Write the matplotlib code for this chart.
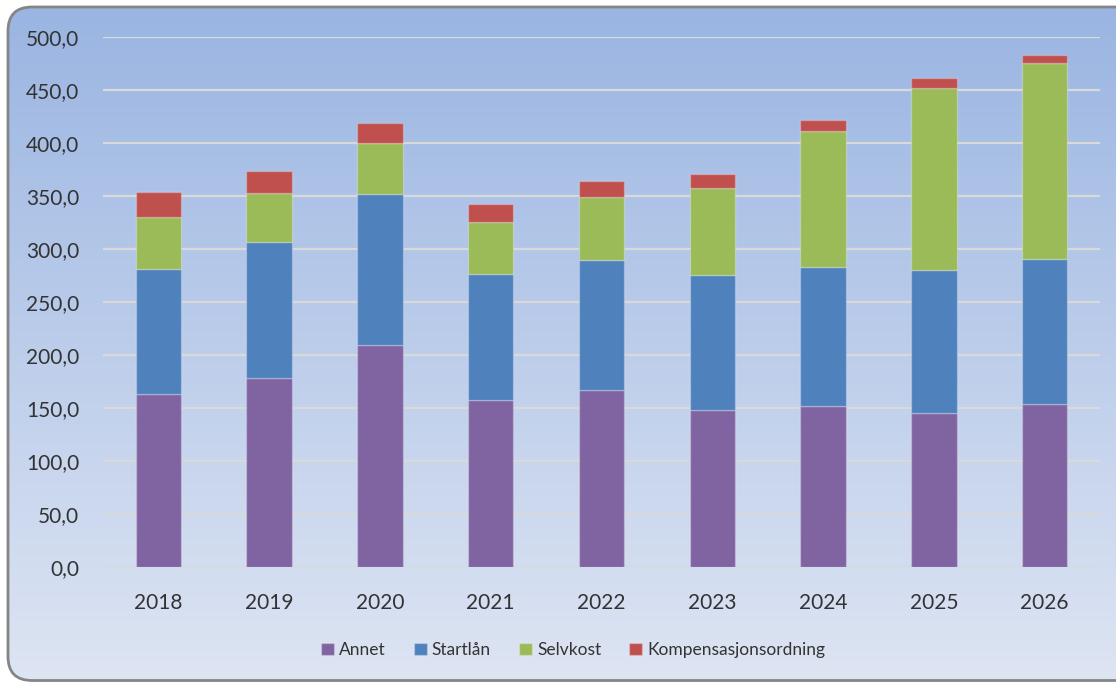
import numpy as np
import matplotlib.pyplot as plt
from matplotlib.patches import FancyBboxPatch

plt.rcParams["font.family"] = ["Lato", "DejaVu Sans"]

years = ["2018", "2019", "2020", "2021", "2022", "2023", "2024", "2025", "2026"]
annet = [163.6, 178.7, 209.8, 157.9, 167.0, 148.5, 151.9, 145.6, 153.8]
startlan = [117.2, 127.9, 142.5, 118.9, 123.0, 126.7, 130.8, 134.3, 136.8]
selvkost = [49.1, 46.2, 47.4, 49.0, 59.4, 82.3, 128.3, 172.3, 185.2]
kompensasjon = [23.9, 20.5, 18.9, 17.0, 15.1, 13.0, 11.1, 8.8, 6.9]

series = [
    ("Annet", annet, "#8064a2"),
    ("Startlån", startlan, "#4f81bd"),
    ("Selvkost", selvkost, "#9bbb59"),
    ("Kompensasjonsordning", kompensasjon, "#c0504d"),
]

W, H = 1116, 682
fig = plt.figure(figsize=(W / 100, H / 100), dpi=100)

# background panel: rounded box filled with a vertical blue gradient
bg = fig.add_axes([0, 0, 1, 1])
bg.set_xlim(0, W)
bg.set_ylim(H, 0)
bg.axis("off")
top = np.array([154, 181, 226]) / 255
bottom = np.array([222, 229, 243]) / 255
t = np.linspace(0, 1, 256)[:, None]
grad = (top * (1 - t) + bottom * t)[:, None, :]
box = FancyBboxPatch((8, 7), W + 20, H - 7 - 1.5,
                     boxstyle="round,pad=0,rounding_size=24",
                     facecolor="none", edgecolor="#858585", linewidth=2)
bg.add_patch(box)
img = bg.imshow(grad, extent=(8, W + 28, H, 7), aspect="auto", zorder=0)
img.set_clip_path(box)

ax = fig.add_axes([103 / W, (H - 567) / H, 997 / W, 530 / H])
ax.patch.set_alpha(0)

x = np.arange(len(years))
base = np.zeros(len(years))
for name, vals, color in series:
    ax.bar(x, vals, width=0.41, bottom=base, color=color, label=name,
           edgecolor=(1, 1, 1, 0.25), linewidth=1, zorder=3)
    base += np.array(vals)

ax.set_xlim(-0.5, len(years) - 0.5)
ax.set_ylim(0, 500)
ax.set_yticks(np.arange(0, 501, 50))
ax.set_yticklabels([f"{v:.1f}".replace(".", ",") for v in np.arange(0, 501, 50)])
ax.set_xticks(x)
ax.set_xticklabels(years)
ax.grid(axis="y", color="#d9d9d9", linewidth=1.6, zorder=0)
ax.set_axisbelow(True)
for s in ax.spines.values():
    s.set_visible(False)
ax.tick_params(axis="y", length=0, pad=17, labelsize=15, labelcolor="#333333")
ax.tick_params(axis="x", length=0, pad=19, labelsize=15, labelcolor="#333333")

fig.legend(loc="center", bbox_to_anchor=(573 / W, 1 - 650 / H), ncol=4,
           frameon=False, fontsize=12.5, handlelength=0.75, handleheight=0.75,
           handletextpad=0.3, columnspacing=1.6, labelcolor="#333333")

fig.savefig("out.png", dpi=100)
